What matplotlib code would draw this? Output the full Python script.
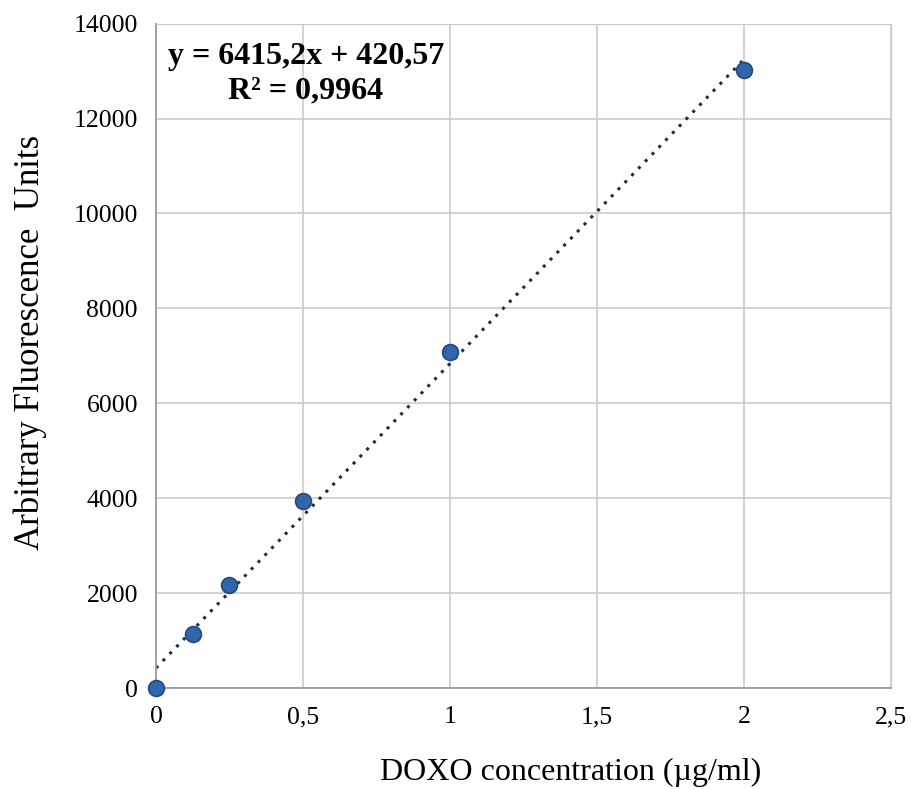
import numpy as np
import matplotlib.pyplot as plt

# calibration data
conc = [0, 0.125, 0.25, 0.5, 1, 2]
fluo = [0, 1135, 2170, 3950, 7090, 13020]
slope = 6415.2
intercept = 420.57
xticks = [0, 0.5, 1, 1.5, 2, 2.5]
xtick_labels = ["0", "0,5", "1", "1,5", "2", "2,5"]
yticks = list(range(0, 14001, 2000))

plt.rcParams['font.family'] = ['Liberation Serif', 'DejaVu Serif']

fig = plt.figure(figsize=(9.12, 7.89), dpi=100)
ax = fig.add_axes([0.171, 0.128, 0.806, 0.842])

ax.grid(True, color='#c8c8c8', lw=1.1)
ax.set_axisbelow(True)

xt = np.linspace(0, 2, 50)
ax.plot(xt, slope * xt + intercept, ls=(0, (1, 2.2)), lw=2.2,
        color='#1c2a4f', zorder=2)
ax.scatter(conc, fluo, s=130, color='#3266ab', edgecolor='#24497a',
           lw=1.2, zorder=3, clip_on=False)

ax.set_xlim(0, 2.5)
ax.set_ylim(0, 14000)
ax.set_xticks(xticks)
ax.set_xticklabels(xtick_labels)
ax.set_yticks(yticks)
ax.tick_params(length=0, labelsize=18.5)
ax.tick_params(axis='y', pad=13)
ax.tick_params(axis='x', pad=13)

for s in ['top', 'right']:
    ax.spines[s].set_color('#c8c8c8')
for s in ['left', 'bottom']:
    ax.spines[s].set_color('#9a9a9a')
    ax.spines[s].set_linewidth(1.3)

ax.text(0.204, 0.972, "y = 6415,2x + 420,57\nR² = 0,9964", transform=ax.transAxes,
        ha='center', va='top', fontsize=23, fontweight='bold',
        linespacing=1.25)

fig.text(0.626, 0.012, "DOXO concentration (µg/ml)", ha='center', va='baseline', fontsize=23)
fig.text(0.033, 0.566, "Arbitrary Fluorescence  Units", ha='center', va='center',
         rotation=90, fontsize=25)

fig.savefig("out.png", dpi=100)
